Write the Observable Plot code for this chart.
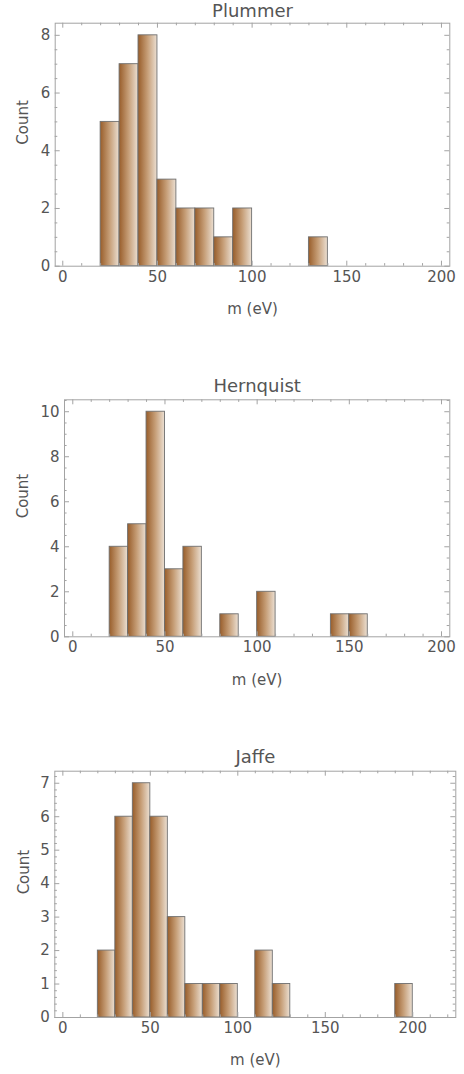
<!DOCTYPE html>
<html>
<head>
<meta charset="utf-8">
<script src="https://cdn.jsdelivr.net/npm/d3@7"></script>
<script src="https://cdn.jsdelivr.net/npm/@observablehq/plot@0.6"></script>
<style>
  body { margin: 0; background: #fff; }
  #page { position: relative; width: 464px; height: 1074px; overflow: hidden; }
  .panel { position: absolute; left: 0; }
</style>
</head>
<body>
<!-- shared horizontal shading for the histogram bars -->
<svg width="0" height="0" style="position:absolute">
  <defs>
    <linearGradient id="barFill" x1="0" x2="1" y1="0" y2="0">
      <stop offset="0" stop-color="#985d2a"/>
      <stop offset="0.5" stop-color="#c69e77"/>
      <stop offset="1" stop-color="#ebdfd2"/>
    </linearGradient>
  </defs>
</svg>
<div id="page"></div>
<script>
// Histogram of fitted masses m (eV), 10 eV bins; bin starts and counts per profile
const binWidth = 10;

const plummerBins   = [20, 30, 40, 50, 60, 70, 80, 90, 130];
const plummerCounts = [5, 7, 8, 3, 2, 2, 1, 2, 1];

const hernquistBins   = [20, 30, 40, 50, 60, 80, 100, 140, 150];
const hernquistCounts = [4, 5, 10, 3, 4, 1, 2, 1, 1];

const jaffeBins   = [20, 30, 40, 50, 60, 70, 80, 90, 110, 120, 190];
const jaffeCounts = [2, 6, 7, 6, 3, 1, 1, 1, 2, 1, 1];

// Axis tick labels
const xTickLabels = [0, 50, 100, 150, 200];
const plummerYTicks = [0, 2, 4, 6, 8];
const hernquistYTicks = [0, 2, 4, 6, 8, 10];
const jaffeYTicks = [0, 1, 2, 3, 4, 5, 6, 7];

const xLabel = "m (eV)";
const yLabel = "Count";

const textColor = "#555555";
const frameColor = "#a3a3a3";
const font = "'DejaVu Sans', sans-serif";
const W = 464;

function panel({title, bins, counts, yTicks, yMinorStep, xDomain, yDomain, xMinorMax,
                top, height, ml, mr, mt, mb, countDx, titleDy}) {
  const data = bins.map((b, i) => ({lo: b, hi: b + binWidth, count: counts[i]}));
  const frameH = height - mt - mb;
  const frameW = W - ml - mr;
  const xMinor = d3.range(0, xMinorMax + 0.001, 10);
  const yMinor = d3.range(0, yDomain[1] + 1e-6, yMinorStep).map(v => +v.toFixed(4));
  const major = 5, minor = 2.6;
  const tickStyle = {stroke: frameColor, strokeWidth: 1};
  const isMajorX = v => xTickLabels.includes(v);
  const isMajorY = v => yTicks.includes(v);

  const chart = Plot.plot({
    width: W,
    height,
    marginLeft: ml,
    marginRight: mr,
    marginTop: mt,
    marginBottom: mb,
    x: {domain: xDomain},
    y: {domain: yDomain},
    style: {fontFamily: font, fontSize: "15px", color: textColor, background: "transparent"},
    marks: [
      Plot.rectY(data, {x1: "lo", x2: "hi", y: "count", fill: "url(#barFill)",
                        stroke: "#6f6f6f", strokeWidth: 0.9, inset: 0}),
      // inward frame ticks on all four sides
      Plot.tickX(xMinor, {x: d => d, ...tickStyle,
        filter: d => !isMajorX(d), insetTop: frameH - minor}),
      Plot.tickX(xMinor, {x: d => d, ...tickStyle,
        filter: d => !isMajorX(d), insetBottom: frameH - minor}),
      Plot.tickX(xMinor, {x: d => d, ...tickStyle,
        filter: d => isMajorX(d), insetTop: frameH - major}),
      Plot.tickX(xMinor, {x: d => d, ...tickStyle,
        filter: d => isMajorX(d), insetBottom: frameH - major}),
      Plot.tickY(yMinor, {y: d => d, ...tickStyle,
        filter: d => !isMajorY(d), insetRight: frameW - minor}),
      Plot.tickY(yMinor, {y: d => d, ...tickStyle,
        filter: d => !isMajorY(d), insetLeft: frameW - minor}),
      Plot.tickY(yTicks, {y: d => d, ...tickStyle, insetRight: frameW - major}),
      Plot.tickY(yTicks, {y: d => d, ...tickStyle, insetLeft: frameW - major}),
      Plot.frame({stroke: frameColor, strokeWidth: 1}),
      Plot.axisX({ticks: xTickLabels, tickSize: 0, tickPadding: 5, label: null,
                  fontSize: 15, fill: textColor}),
      Plot.axisY({ticks: yTicks, tickSize: 0, tickPadding: 5, label: null,
                  fontSize: 15, fill: textColor}),
      Plot.text([title], {frameAnchor: "top", dy: titleDy, fontSize: 18,
                          fill: textColor, lineAnchor: "middle"}),
      Plot.text([xLabel], {frameAnchor: "bottom", dy: 43, fontSize: 15,
                           fill: textColor, lineAnchor: "middle"}),
      Plot.text([yLabel], {frameAnchor: "left", dx: countDx, rotate: -90, fontSize: 15,
                           fill: textColor, lineAnchor: "middle"})
    ]
  });
  const wrap = document.createElement("div");
  wrap.className = "panel";
  wrap.style.top = top + "px";
  wrap.appendChild(chart);
  document.getElementById("page").appendChild(wrap);
}

panel({title: "Plummer", bins: plummerBins, counts: plummerCounts,
       yTicks: plummerYTicks, yMinorStep: 0.5,
       xDomain: [-4, 204.4], yDomain: [0, 8.42], xMinorMax: 200,
       top: 0, height: 325, ml: 54.7, mr: 14.7, mt: 22.7, mb: 59.3, countDx: -32,
       titleDy: -12.2});

panel({title: "Hernquist", bins: hernquistBins, counts: hernquistCounts,
       yTicks: hernquistYTicks, yMinorStep: 0.5,
       xDomain: [-4.5, 204.5], yDomain: [0, 10.53], xMinorMax: 200,
       top: 370, height: 320, ml: 64, mr: 14.7, mt: 29.3, mb: 53.7, countDx: -41,
       titleDy: -13.3});

panel({title: "Jaffe", bins: jaffeBins, counts: jaffeCounts,
       yTicks: jaffeYTicks, yMinorStep: 0.2,
       xDomain: [-4.6, 224.6], yDomain: [0, 7.36], xMinorMax: 220,
       top: 740, height: 334, ml: 54.3, mr: 8.7, mt: 30.7, mb: 57, countDx: -31,
       titleDy: -13.7});
</script>
</body>
</html>
